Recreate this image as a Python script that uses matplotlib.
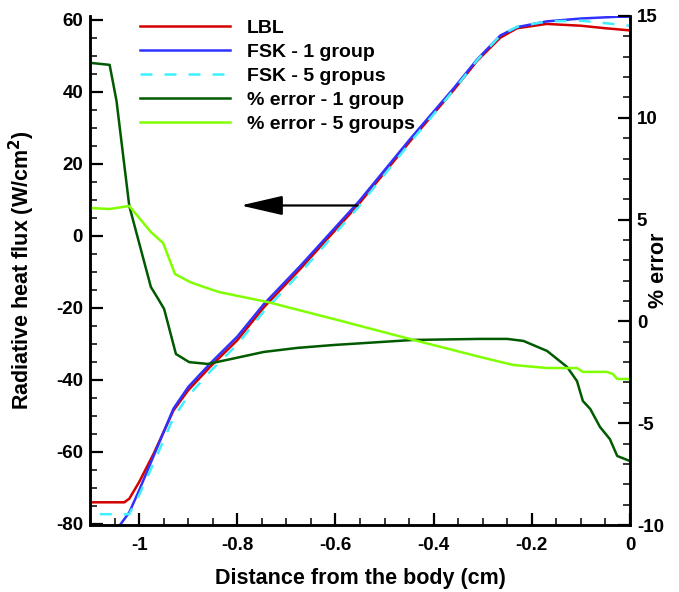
import matplotlib
matplotlib.use("Agg")
import matplotlib.pyplot as plt
from matplotlib.ticker import MultipleLocator, FuncFormatter

plt.rcParams['font.family'] = ['Liberation Sans', 'DejaVu Sans']
plt.rcParams['font.weight'] = 'bold'
plt.rcParams['axes.unicode_minus'] = False

# radiative heat flux (left axis)
x_lbl = [-1.1, -1.03, -1.02, -1.0, -0.97, -0.93, -0.9, -0.854, -0.8, -0.746, -0.671,
         -0.553, -0.447, -0.36, -0.311, -0.264, -0.23, -0.17, -0.1, -0.05, 0.0]
q_lbl = [-74.0, -74.0, -73.0, -68.4, -60.4, -48.5, -42.9, -36.2, -29.0, -19.9, -9.1,
         8.7, 26.4, 40.3, 48.6, 55.0, 57.6, 58.8, 58.3, 57.6, 57.0]

x_fsk1 = [-1.1, -1.06, -1.04, -1.02, -1.0, -0.97, -0.93, -0.9, -0.854, -0.8, -0.746, -0.671,
          -0.553, -0.447, -0.36, -0.311, -0.264, -0.23, -0.17, -0.1, -0.024, 0.0]
q_fsk1 = [-81.0, -81.0, -80.5, -76.8, -70.7, -61.0, -48.0, -42.0, -35.3, -28.0, -19.0, -8.3,
          9.4, 27.0, 40.8, 49.0, 55.6, 57.9, 59.5, 60.3, 60.8, 60.8]

x_fsk5 = [-1.08, -1.02, -1.0, -0.97, -0.93, -0.9, -0.854, -0.8, -0.746, -0.671,
          -0.553, -0.447, -0.36, -0.311, -0.264, -0.23, -0.17, -0.1, -0.05, 0.0]
q_fsk5 = [-77.3, -77.3, -72.0, -63.0, -50.5, -44.5, -37.5, -30.2, -21.0, -10.2,
          8.0, 26.0, 40.3, 48.8, 55.6, 58.0, 59.5, 59.7, 59.0, 58.3]

# percent error (right axis)
x_err1 = [-1.1, -1.06, -1.046, -1.02, -0.976, -0.961, -0.949, -0.925, -0.898, -0.86,
          -0.813, -0.746, -0.677, -0.604, -0.441, -0.305, -0.25, -0.217, -0.169, -0.128,
          -0.108, -0.096, -0.081, -0.061, -0.041, -0.026, 0.0]
e_err1 = [12.7, 12.6, 10.83, 5.67, 1.69, 1.1, 0.61, -1.6, -2.0, -2.09,
          -1.85, -1.5, -1.3, -1.16, -0.91, -0.86, -0.86, -0.96, -1.45, -2.24,
          -2.93, -3.91, -4.3, -5.19, -5.78, -6.61, -6.86]

x_err5 = [-1.1, -1.06, -1.02, -0.976, -0.951, -0.927, -0.896, -0.874, -0.837, -0.738,
          -0.604, -0.441, -0.305, -0.238, -0.169, -0.108, -0.096, -0.047, -0.035, -0.026, 0.0]
e_err5 = [5.57, 5.52, 5.67, 4.39, 3.85, 2.33, 1.93, 1.74, 1.44, 0.95,
          0.12, -0.91, -1.75, -2.14, -2.29, -2.29, -2.48, -2.48, -2.58, -2.83, -2.83]


def fmt(v, pos):
    if abs(v) < 1e-9:
        v = 0
    return '%g' % v


fig = plt.figure(figsize=(6.79, 5.92), dpi=100)
ax1 = fig.add_axes([90 / 679, 1 - 525 / 592, 540 / 679, 509 / 592])
ax2 = ax1.twinx()

lw = 1.8
l1, = ax1.plot(x_lbl, q_lbl, color='#d40000', lw=lw, label='LBL')
l2, = ax1.plot(x_fsk1, q_fsk1, color='#3030ff', lw=lw, label='FSK - 1 group')
l3, = ax1.plot(x_fsk5, q_fsk5, color='#40f0ff', lw=lw, ls=(0, (4.8, 4.8)), label='FSK - 5 gropus')
l4, = ax2.plot(x_err1, e_err1, color='#005a00', lw=lw, label='% error - 1 group')
l5, = ax2.plot(x_err5, e_err5, color='#80ff00', lw=lw, label='% error - 5 groups')

ax1.set_xlim(-1.1, 0)
ax1.set_ylim(-80.3, 61.0)
ax2.set_ylim(-10, 15)

ax1.xaxis.set_major_locator(MultipleLocator(0.2))
ax1.xaxis.set_minor_locator(MultipleLocator(0.05))
ax1.yaxis.set_major_locator(MultipleLocator(20))
ax1.yaxis.set_minor_locator(MultipleLocator(5))
ax2.yaxis.set_major_locator(MultipleLocator(5))
ax2.yaxis.set_minor_locator(MultipleLocator(1))
ax1.xaxis.set_major_formatter(FuncFormatter(fmt))
ax1.yaxis.set_major_formatter(FuncFormatter(fmt))
ax2.yaxis.set_major_formatter(FuncFormatter(fmt))

for ax in (ax1, ax2):
    ax.spines['top'].set_visible(False)
    for s in ax.spines.values():
        s.set_linewidth(1.8)
    ax.tick_params(which='major', direction='in', length=9, width=1.6, labelsize=13.5, pad=5)
    ax.tick_params(which='minor', direction='in', length=5, width=1.1)
ax1.tick_params(axis='x', which='major', pad=9)
ax1.tick_params(axis='x', which='both', top=False)
ax1.tick_params(axis='y', which='both', right=False)

ax1.set_xlabel('Distance from the body (cm)', fontsize=15.5, fontweight='bold')
ax1.set_ylabel('Radiative heat flux (W/cm$^\\mathbf{2}$)', fontsize=15.5, fontweight='bold')
ax2.set_ylabel('% error', fontsize=15.5, fontweight='bold')
ax1.xaxis.set_label_coords(0.5, -0.0845)
ax1.yaxis.set_label_coords(-0.098, 0.5)
ax2.yaxis.set_label_coords(1.033, 0.5)

ax1.annotate('', xy=(-0.793, 8.4), xytext=(-0.555, 8.4),
             arrowprops=dict(arrowstyle='-|>,head_length=2.6,head_width=0.6',
                             color='black', lw=1.6, shrinkA=0, shrinkB=0))

ax2.legend(handles=[l1, l2, l3, l4, l5], loc='upper left', frameon=False,
           bbox_to_anchor=(140 / 679, 1 - 19 / 592), bbox_transform=fig.transFigure,
           borderpad=0, borderaxespad=0, handlelength=4.63, handletextpad=0.87,
           labelspacing=0.33, prop={'size': 14, 'weight': 'bold'})

fig.savefig('out.png', dpi=100)
